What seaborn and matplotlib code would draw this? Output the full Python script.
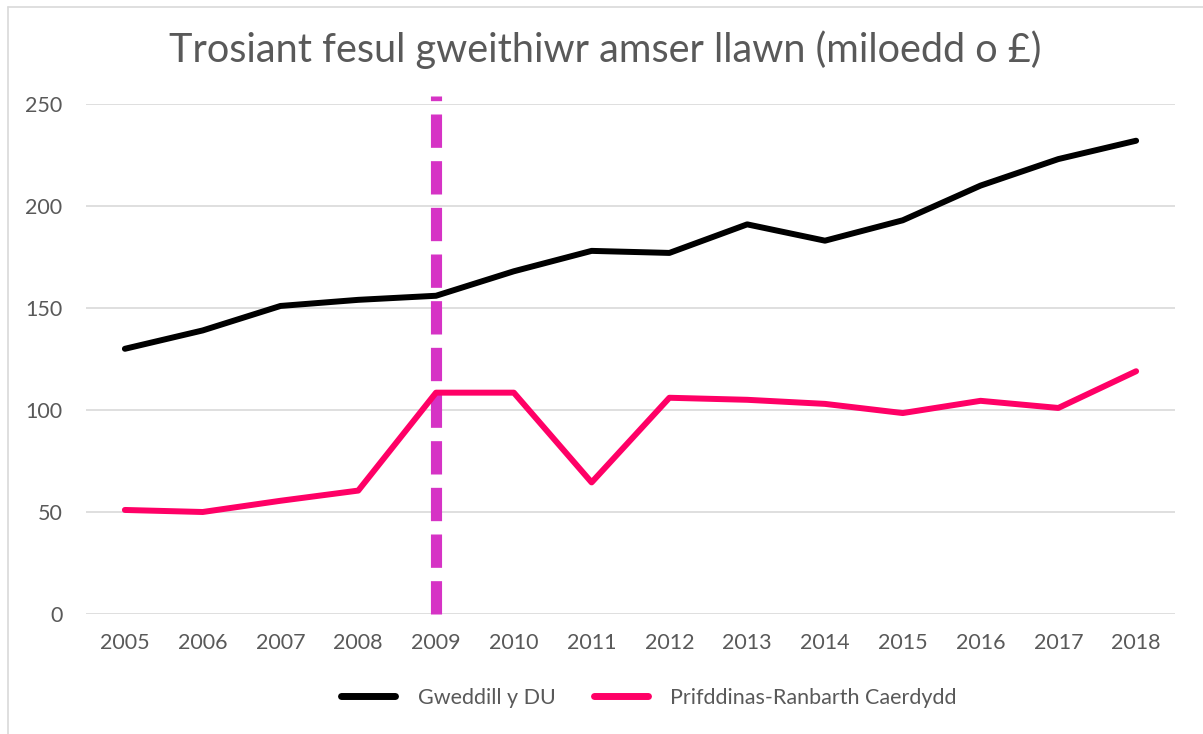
import pandas as pd
import matplotlib
matplotlib.use("Agg")
import matplotlib.pyplot as plt
from matplotlib.lines import Line2D
import seaborn as sns

# ==========================================
# DATA
# ==========================================
years = [2005, 2006, 2007, 2008, 2009, 2010, 2011,
         2012, 2013, 2014, 2015, 2016, 2017, 2018]
rest_of_uk = [130, 139, 151, 154, 156, 168, 178,
              177, 191, 183, 193, 210, 223, 232]
cardiff_region = [51, 50, 55.5, 60.5, 108.5, 108.5, 64.5,
                  106, 105, 103, 98.5, 104.5, 101, 119]
series_names = ["Gweddill y DU", "Prifddinas-Ranbarth Caerdydd"]
marker_year = 2009
marker_top = 254
title = "Trosiant fesul gweithiwr amser llawn (miloedd o £)"

df = pd.DataFrame({
    "year": years * 2,
    "value": rest_of_uk + cardiff_region,
    "series": [series_names[0]] * len(years) + [series_names[1]] * len(years),
})

# ==========================================
# SETUP
# ==========================================
sns.set_theme(style="white")
plt.rcParams["font.family"] = ["Lato", "DejaVu Sans"]
text_grey = "#595959"

fig = plt.figure(figsize=(12.03, 7.34), dpi=100)
ax = fig.add_axes([86 / 1203, 1 - 614 / 734, (1175 - 86) / 1203, (614 - 104) / 734])

palette = {series_names[0]: "#000000", series_names[1]: "#ff0066"}
sns.lineplot(data=df, x="year", y="value", hue="series", palette=palette,
             linewidth=4.3, ax=ax, zorder=3, solid_capstyle="round")

# vertical dashed marker at 2009
ax.axvline(marker_year, ymin=0, ymax=marker_top / 250, color="#d633c5",
           linewidth=8, linestyle=(0, (3.0, 1.2)), clip_on=False, zorder=2,
           dash_capstyle="butt")

ax.set_xlim(years[0] - 0.5, years[-1] + 0.5)
ax.set_ylim(0, 250)
ax.set_xticks(years)
ax.set_xticklabels([str(y) for y in years])
ax.set_yticks(range(0, 251, 50))
ax.grid(axis="y", color="#d9d9d9", linewidth=1.2)
ax.set_axisbelow(True)
for s in ax.spines.values():
    s.set_visible(False)
ax.tick_params(axis="x", length=0, pad=14, labelsize=15.5, labelcolor=text_grey)
ax.tick_params(axis="y", length=0, pad=17, labelsize=15.5, labelcolor=text_grey)
ax.set_xlabel("")
ax.set_ylabel("")

fig.text(605 / 1203, 1 - 50 / 734, title, ha="center", va="center",
         fontsize=28.5, color=text_grey)

# legend below the chart
handles = [Line2D([], [], color=palette[n], linewidth=5, solid_capstyle="round")
           for n in series_names]
leg = ax.legend(handles, series_names, loc="center", ncol=2, frameon=False,
                bbox_to_anchor=(649 / 1203, 1 - 698 / 734),
                bbox_transform=fig.transFigure, fontsize=15.5,
                handlelength=2.5, handletextpad=1.05, columnspacing=1.8)
for t in leg.get_texts():
    t.set_color(text_grey)

# light chart border (left and top edges visible in the reference)
fig.add_artist(Line2D([7.5 / 1203, 7.5 / 1203], [0, 1 - 6.5 / 734],
                      transform=fig.transFigure, color="#d9d9d9", linewidth=1.2))
fig.add_artist(Line2D([7.5 / 1203, 1], [1 - 6.5 / 734, 1 - 6.5 / 734],
                      transform=fig.transFigure, color="#d9d9d9", linewidth=1.2))

fig.savefig("out.png", dpi=100)
